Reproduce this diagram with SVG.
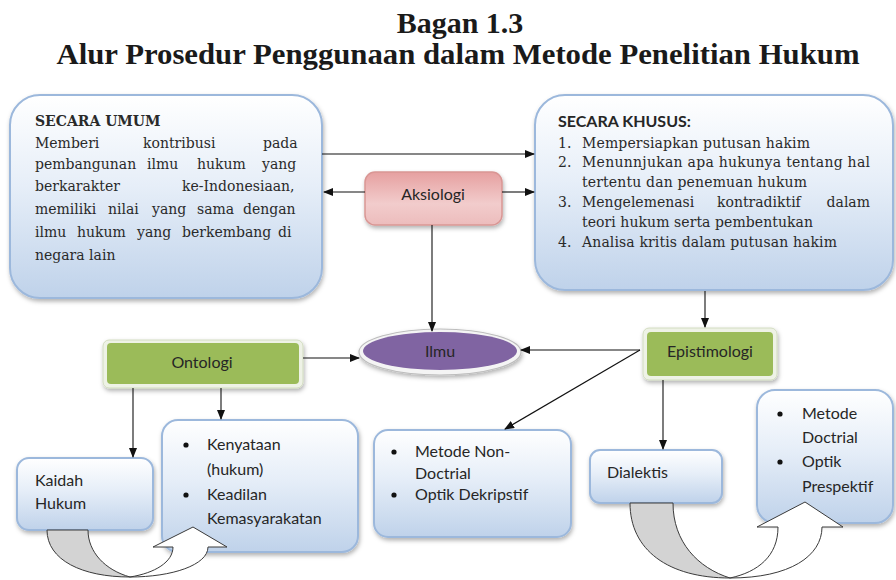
<svg xmlns="http://www.w3.org/2000/svg" width="896" height="580" viewBox="0 0 896 580">
<defs>
<linearGradient id="gBlue" x1="0" y1="0" x2="0" y2="1">
<stop offset="0" stop-color="#ffffff"/><stop offset="0.45" stop-color="#e6eef8"/><stop offset="1" stop-color="#bfd2ea"/>
</linearGradient>
<linearGradient id="gPink" x1="0" y1="0" x2="0" y2="1">
<stop offset="0" stop-color="#e6a0a0"/><stop offset="0.6" stop-color="#f2cccc"/><stop offset="1" stop-color="#ecbcbc"/>
</linearGradient>
<filter id="sh" x="-10%" y="-10%" width="130%" height="140%">
<feDropShadow dx="1" dy="2.5" stdDeviation="2" flood-color="#000" flood-opacity="0.3"/>
</filter>
<marker id="ah" markerWidth="10" markerHeight="8" refX="9" refY="4" orient="auto" markerUnits="userSpaceOnUse">
<path d="M0,0 L10,4 L0,8 Z" fill="#111"/>
</marker>
<style>
.blue{fill:url(#gBlue);stroke:#9cb8dc;stroke-width:2;filter:url(#sh)}
.serif{font-family:"DejaVu Serif","Liberation Serif",serif;font-size:14px;fill:#2a2a2a}
.sans{font-family:Lato,"Liberation Sans",sans-serif;font-size:16px;fill:#262626}
.title{font-family:"Liberation Serif","DejaVu Serif",serif;font-weight:bold;fill:#1a1a1a}
.con{stroke:#111;stroke-width:1.1;fill:none;marker-end:url(#ah)}
.green-o{fill:#eef2e6;stroke:#d2dcc0;stroke-width:1;filter:url(#sh)}
.green{fill:#9bbb59}
.bul{fill:#111}
.ua{stroke:#3a3a3a;stroke-width:1;stroke-linejoin:round}
</style>
</defs>
<rect width="896" height="580" fill="#ffffff"/>

<g id="title">
<text class="title" x="460" y="33" font-size="30" text-anchor="middle">Bagan 1.3</text>
<text class="title" x="458" y="64" font-size="30" text-anchor="middle" textLength="803" lengthAdjust="spacingAndGlyphs">Alur Prosedur Penggunaan dalam Metode Penelitian Hukum</text>
</g>

<g id="secara-umum">
<rect class="blue" x="10" y="95" width="312" height="203" rx="30"/>
<text class="serif" x="35" y="126" font-weight="bold" font-size="13">SECARA UMUM</text>
<text class="serif" y="148"><tspan x="35">Memberi</tspan><tspan x="143">kontribusi</tspan><tspan x="263">pada</tspan></text>
<text class="serif" y="169"><tspan x="35">pembangunan</tspan><tspan x="147">ilmu</tspan><tspan x="197">hukum</tspan><tspan x="262">yang</tspan></text>
<text class="serif" y="191"><tspan x="35">berkarakter</tspan><tspan x="182">ke-Indonesiaan,</tspan></text>
<text class="serif" y="214"><tspan x="35">memiliki</tspan><tspan x="108">nilai</tspan><tspan x="152">yang</tspan><tspan x="197">sama</tspan><tspan x="243">dengan</tspan></text>
<text class="serif" y="237"><tspan x="35">ilmu</tspan><tspan x="77">hukum</tspan><tspan x="137">yang</tspan><tspan x="182">berkembang</tspan><tspan x="278">di</tspan></text>
<text class="serif" y="260" x="35">negara lain</text>
</g>

<g id="secara-khusus">
<rect class="blue" x="535" y="95" width="358" height="195" rx="30"/>
<text class="sans" x="558" y="127" font-weight="bold" font-size="14.5">SECARA KHUSUS:</text>
<text class="serif" x="558" y="148">1.</text>
<text class="serif" x="582" y="148" textLength="228" lengthAdjust="spacing">Mempersiapkan  putusan  hakim</text>
<text class="serif" x="558" y="167">2.</text>
<text class="serif" x="582" y="167" textLength="288" lengthAdjust="spacing">Menunnjukan apa hukunya tentang hal</text>
<text class="serif" x="582" y="187" textLength="225" lengthAdjust="spacing">tertentu dan penemuan hukum</text>
<text class="serif" x="558" y="207">3.</text>
<text class="serif" y="207"><tspan x="582">Mengelemenasi</tspan><tspan x="717">kontradiktif</tspan><tspan x="870" text-anchor="end">dalam</tspan></text>
<text class="serif" x="582" y="227" textLength="231" lengthAdjust="spacing">teori hukum serta pembentukan</text>
<text class="serif" x="558" y="247">4.</text>
<text class="serif" x="582" y="247" textLength="255" lengthAdjust="spacing">Analisa kritis dalam putusan hakim</text>
</g>

<g id="aksiologi">
<rect x="365" y="172" width="137" height="53" rx="10" fill="url(#gPink)" stroke="#d99694" stroke-width="1.5" filter="url(#sh)"/>
<text class="sans" x="433" y="200" text-anchor="middle">Aksiologi</text>
</g>

<g id="ilmu">
<ellipse cx="440" cy="352" rx="81" ry="23" fill="#f4f4f4" stroke="#bdbdbd" stroke-width="1.2" filter="url(#sh)"/>
<ellipse cx="440" cy="351" rx="77" ry="19" fill="#8064a2"/>
<text class="sans" x="440" y="357" text-anchor="middle">Ilmu</text>
</g>

<g id="ontologi">
<rect class="green-o" x="103" y="340" width="200" height="48" rx="6"/>
<rect class="green" x="107" y="343" width="192" height="41" rx="4"/>
<text class="sans" x="202" y="368" text-anchor="middle">Ontologi</text>
</g>

<g id="epistimologi">
<rect class="green-o" x="643" y="328" width="134" height="52" rx="6"/>
<rect class="green" x="647" y="332" width="126" height="44" rx="4"/>
<text class="sans" x="710" y="357" text-anchor="middle">Epistimologi</text>
</g>

<g id="kaidah-hukum">
<rect class="blue" x="17" y="458" width="136" height="72" rx="12"/>
<text class="sans" x="35" y="486">Kaidah</text>
<text class="sans" x="35" y="509">Hukum</text>
</g>

<g id="kenyataan">
<rect class="blue" x="162" y="420" width="196" height="132" rx="16"/>
<circle class="bul" cx="186" cy="445" r="2.6"/>
<text class="sans" x="207" y="450">Kenyataan</text>
<text class="sans" x="207" y="475">(hukum)</text>
<circle class="bul" cx="186" cy="495" r="2.6"/>
<text class="sans" x="207" y="500">Keadilan</text>
<text class="sans" x="207" y="524">Kemasyarakatan</text>
</g>

<g id="non-doctrial">
<rect class="blue" x="374" y="430" width="197" height="107" rx="14"/>
<circle class="bul" cx="394" cy="452" r="2.6"/>
<text class="sans" x="415" y="457">Metode Non-</text>
<text class="sans" x="415" y="479">Doctrial</text>
<circle class="bul" cx="394" cy="495" r="2.6"/>
<text class="sans" x="415" y="500">Optik Dekripstif</text>
</g>

<g id="dialektis">
<rect class="blue" x="590" y="450" width="132" height="53" rx="10"/>
<text class="sans" x="607" y="478">Dialektis</text>
</g>

<g id="doctrial">
<rect class="blue" x="757" y="390" width="136" height="133" rx="18"/>
<circle class="bul" cx="780" cy="414" r="2.6"/>
<text class="sans" x="802" y="419">Metode</text>
<text class="sans" x="802" y="443">Doctrial</text>
<circle class="bul" cx="780" cy="462" r="2.6"/>
<text class="sans" x="802" y="467">Optik</text>
<text class="sans" x="802" y="492">Prespektif</text>
</g>

<g id="connectors">
<path class="con" d="M322,154 H534"/>
<path class="con" d="M365,192 H324"/>
<path class="con" d="M502,192 H534"/>
<path class="con" d="M432,225 V331"/>
<path class="con" d="M303,358 H359"/>
<path class="con" d="M640,350 H521"/>
<path class="con" d="M640,350 L505,429"/>
<path class="con" d="M705,291 V327"/>
<path class="con" d="M663,380 V449"/>
<path class="con" d="M133,388 V457"/>
<path class="con" d="M221,388 V419"/>
<path class="ua" fill="#d3d3d3" d="M47,530 L88,530 C88,552 105,570 130,577 C82,577 47,560 47,530 Z"/>
<path class="ua" fill="#ffffff" d="M130,577 C172,577 208,565 208,547 L227,547 L193,527 L153,547 L173,547 C173,562 155,573 130,577 Z"/>
<path class="ua" fill="#d3d3d3" d="M630,503 L673,503 C673,542 698,568 730,578 C668,578 630,550 630,503 Z"/>
<path class="ua" fill="#ffffff" d="M730,578 C790,578 822,556 822,527 L843,527 L805,502 L757,527 L778,527 C778,556 758,572 730,578 Z"/>
</g>
</svg>
